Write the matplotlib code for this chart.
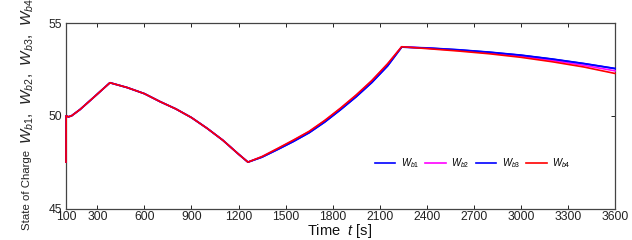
import matplotlib
matplotlib.use("Agg")
import matplotlib.pyplot as plt

plt.rcParams['font.family'] = ['Liberation Sans', 'DejaVu Sans']
plt.rcParams['mathtext.fontset'] = 'custom'
plt.rcParams['mathtext.rm'] = 'Liberation Sans'
plt.rcParams['mathtext.it'] = 'Liberation Sans:italic'
plt.rcParams['mathtext.bf'] = 'Liberation Sans:bold'

# time [s]
t = [100, 101, 115, 136, 190, 275, 380, 490, 600, 700, 800, 900, 1000, 1100,
     1200, 1260, 1350, 1450, 1550, 1650, 1750, 1850, 1950, 2050, 2150, 2240,
     2400, 2600, 2800, 3000, 3200, 3400, 3600]

wb1 = [47.5, 50.0, 49.94, 50.0, 50.34, 50.98, 51.78, 51.52, 51.19, 50.76, 50.37, 49.90,
       49.32, 48.68, 47.93, 47.50, 47.77, 48.18, 48.61, 49.08, 49.66, 50.32, 51.02,
       51.79, 52.68, 53.70, 53.66, 53.56, 53.43, 53.27, 53.06, 52.82, 52.55]
wb2 = [47.5, 50.0, 49.94, 50.0, 50.34, 50.98, 51.78, 51.52, 51.19, 50.76, 50.37, 49.90,
       49.32, 48.68, 47.93, 47.50, 47.80, 48.23, 48.68, 49.15, 49.74, 50.40, 51.11,
       51.89, 52.79, 53.72, 53.64, 53.52, 53.38, 53.21, 52.98, 52.72, 52.42]
wb3 = [47.5, 50.0, 49.94, 50.0, 50.34, 50.98, 51.78, 51.52, 51.19, 50.76, 50.37, 49.90,
       49.32, 48.68, 47.93, 47.50, 47.77, 48.19, 48.62, 49.09, 49.67, 50.33, 51.03,
       51.80, 52.69, 53.70, 53.65, 53.55, 53.42, 53.26, 53.05, 52.81, 52.54]
wb4 = [47.5, 50.0, 49.94, 50.0, 50.34, 50.98, 51.78, 51.52, 51.19, 50.76, 50.37, 49.90,
       49.32, 48.68, 47.93, 47.50, 47.80, 48.24, 48.69, 49.16, 49.75, 50.41, 51.12,
       51.90, 52.80, 53.72, 53.62, 53.49, 53.34, 53.15, 52.91, 52.63, 52.28]

series = [(wb1, '#0000ff', r'$W_{b1}$'),
          (wb2, '#ff00ff', r'$W_{b2}$'),
          (wb3, '#0000ff', r'$W_{b3}$'),
          (wb4, '#ff0000', r'$W_{b4}$')]

xticks = [100, 300, 600, 900, 1200, 1500, 1800, 2100, 2400, 2700, 3000, 3300, 3600]
yticks = [45, 50, 55]

W, H = 632, 240
fig = plt.figure(figsize=(W / 100, H / 100), dpi=100)
ax = fig.add_axes([66 / W, (240 - 208.5) / H, (615 - 66) / W, (208.5 - 23) / H])

for vals, col, lab in series:
    ax.plot(t, vals, color=col, lw=1.2, label=lab, clip_on=False, zorder=3)

ax.set_xlim(100, 3600)
ax.set_ylim(45, 55)
ax.set_xticks(xticks)
ax.set_yticks(yticks)
ax.tick_params(direction='in', top=True, right=True, length=3, width=0.7,
               labelsize=8.7, colors='#222222')
ax.tick_params(axis='x', pad=2)
ax.tick_params(axis='y', pad=3)
for s in ax.spines.values():
    s.set_color('#444444')
    s.set_linewidth(0.9)
    s.set_zorder(2)

fig.text(340 / W, 1 - 231 / H, r'Time  $t$ [s]', fontsize=10.5,
         ha='center', va='center', color='#111111')

fig.text(27 / W, 10 / H, 'State of Charge',
         rotation=90, ha='center', va='bottom', fontsize=8.2, color='#222222')
fig.text(27 / W, 1 - 144 / H, r'$W_{b1}$,  $W_{b2}$,  $W_{b3}$,  $W_{b4}$ [%]',
         rotation=90, ha='center', va='bottom', fontsize=11, color='#222222')

leg = ax.legend(ncol=4, loc='center', bbox_to_anchor=(0.741, 0.245), frameon=False,
                fontsize=7, handlelength=2.1, handletextpad=0.6, columnspacing=0.6,
                borderpad=0)

fig.savefig('out.png', dpi=100)
